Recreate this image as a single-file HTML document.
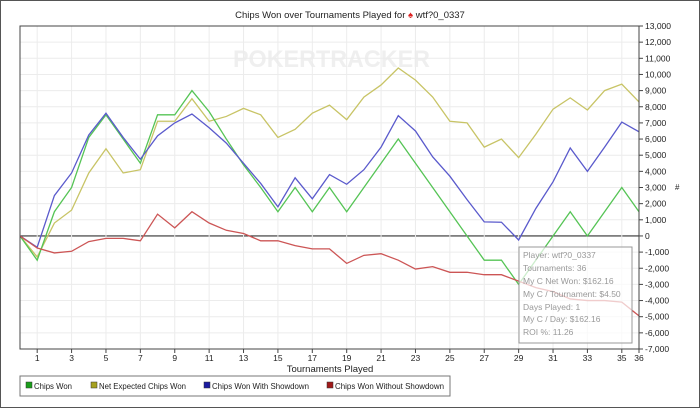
<!DOCTYPE html>
<html><head><meta charset="utf-8"><style>
body{margin:0;background:#fff;font-family:"Liberation Sans",sans-serif}
svg{display:block}
</style></head><body>
<svg id="chart" width="700" height="408" viewBox="0 0 700 408">
<rect x="0.5" y="0.5" width="699" height="407" fill="#fff" stroke="#555"/>
<text x="350" y="18" font-size="9.5" text-anchor="middle" fill="#222">Chips Won over Tournaments Played for <tspan fill="#d22">♠</tspan> wtf?0_0337</text>
<text x="233" y="67" font-size="24" font-weight="bold" fill="#efefef" textLength="197" lengthAdjust="spacingAndGlyphs">POKERTRACKER</text>
<g id="grid"></g>
<g id="series"></g>
<rect x="20" y="26" width="619" height="323" fill="none" stroke="#444"/>
<g id="axes"></g>
<text x="675" y="190" font-size="8" fill="#222">#</text>
<text x="330" y="372" font-size="9.5" text-anchor="middle" fill="#222">Tournaments Played</text>
<g>
<rect x="20" y="376" width="430" height="20" fill="#fff" stroke="#777"/>
<g><rect x="26" y="382" width="6" height="6" fill="#1a9e1a" stroke="#333" stroke-width="0.5"/><text x="34" y="389" font-size="8.5" fill="#222" textLength="38" lengthAdjust="spacingAndGlyphs">Chips Won</text></g>
<g><rect x="91" y="382" width="6" height="6" fill="#a6a11f" stroke="#333" stroke-width="0.5"/><text x="99" y="389" font-size="8.5" fill="#222" textLength="87" lengthAdjust="spacingAndGlyphs">Net Expected Chips Won</text></g>
<g><rect x="204" y="382" width="6" height="6" fill="#1a1aa0" stroke="#333" stroke-width="0.5"/><text x="212" y="389" font-size="8.5" fill="#222" textLength="97" lengthAdjust="spacingAndGlyphs">Chips Won With Showdown</text></g>
<g><rect x="327" y="382" width="6" height="6" fill="#a01a1a" stroke="#333" stroke-width="0.5"/><text x="335" y="389" font-size="8.5" fill="#222" textLength="109" lengthAdjust="spacingAndGlyphs">Chips Won Without Showdown</text></g>
</g>
<g>
<rect x="519" y="247" width="113" height="96" fill="#fff" fill-opacity="0.7" stroke="#999"/>
<g font-size="8.5" fill="#999">
<text x="523" y="258">Player: wtf?0_0337</text>
<text x="523" y="271">Tournaments: 36</text>
<text x="523" y="284">My C Net Won: $162.16</text>
<text x="523" y="297">My C / Tournament: $4.50</text>
<text x="523" y="310">Days Played: 1</text>
<text x="523" y="322">My C / Day: $162.16</text>
<text x="523" y="335">ROI %: 11.26</text>
</g></g>
</svg>
<script>
const tournaments=[0,1,2,3,4,5,6,7,8,9,10,11,12,13,14,15,16,17,18,19,20,21,22,23,24,25,26,27,28,29,30,31,32,33,34,35,36];
const chipsWon=[0,-1500,1500,3000,6100,7500,6000,4500,7500,7500,9000,7700,6000,4400,3000,1500,3000,1500,3000,1500,3000,4500,6000,4500,3000,1500,0,-1500,-1500,-3000,-1500,0,1500,0,1500,3000,1500];
const netExpected=[0,-1300,800,1600,3900,5400,3900,4100,7100,7100,8500,7100,7400,7900,7500,6100,6600,7600,8100,7200,8600,9350,10400,9650,8600,7100,7000,5500,6000,4850,6300,7850,8550,7800,9000,9400,8300];
const withShowdown=[0,-700,2500,3900,6250,7600,6100,4750,6200,7000,7550,6700,5750,4500,3250,1800,3600,2300,3800,3200,4100,5500,7450,6500,4900,3700,2250,870,850,-250,1700,3350,5450,4000,5500,7050,6450];
const withoutShowdown=[0,-750,-1050,-950,-350,-150,-150,-300,1350,500,1500,800,350,150,-300,-300,-600,-800,-800,-1700,-1200,-1100,-1500,-2050,-1900,-2250,-2250,-2400,-2400,-2800,-3200,-3450,-3900,-4000,-4000,-4100,-4950];
const yTicks=[13000,12000,11000,10000,9000,8000,7000,6000,5000,4000,3000,2000,1000,0,-1000,-2000,-3000,-4000,-5000,-6000,-7000];
const xTicks=[1,3,5,7,9,11,13,15,17,19,21,23,25,27,29,31,33,35,36];
const NS="http://www.w3.org/2000/svg";
const X=v=>20+v*(619/36);
const Y=v=>26+(13000-v)*(323/20000);
function mk(t,a,p){const e=document.createElementNS(NS,t);for(const k in a)e.setAttribute(k,a[k]);p.appendChild(e);return e;}
const grid=document.getElementById('grid'),axes=document.getElementById('axes'),ser=document.getElementById('series');
yTicks.forEach(v=>{
 const l=mk('line',{x1:20,x2:639,y1:Y(v),y2:Y(v),stroke:v===0?'#333':'#ececec','stroke-width':v===0?1.2:1},grid);
 
 
 mk('line',{x1:639,x2:643,y1:Y(v),y2:Y(v),stroke:'#444'},axes);
 const t=mk('text',{x:645,y:Y(v)+3,'font-size':8.5,fill:'#222'},axes);
 t.textContent=v.toLocaleString('en-US');
 
 
});
xTicks.forEach(v=>{
 const l=mk('line',{x1:X(v),x2:X(v),y1:26,y2:349,stroke:'#ececec'},grid);
 
 
 mk('line',{x1:X(v),x2:X(v),y1:349,y2:353,stroke:'#444'},axes);
 const t=mk('text',{x:X(v),y:361,'font-size':8.5,'text-anchor':'middle',fill:'#222'},axes);
 t.textContent=v;
 
 
});
[[netExpected,'#c8c466','line-net-expected'],[chipsWon,'#55c455','line-chips-won'],[withShowdown,'#5a5acc','line-with-showdown'],[withoutShowdown,'#cc5555','line-without-showdown']].forEach(([d,c,n])=>{
 const p=mk('polyline',{points:d.map((v,i)=>X(tournaments[i])+','+Y(v)).join(' '),fill:'none',stroke:c,'stroke-width':1.3},ser);
 
 
});
</script>
</body></html>
